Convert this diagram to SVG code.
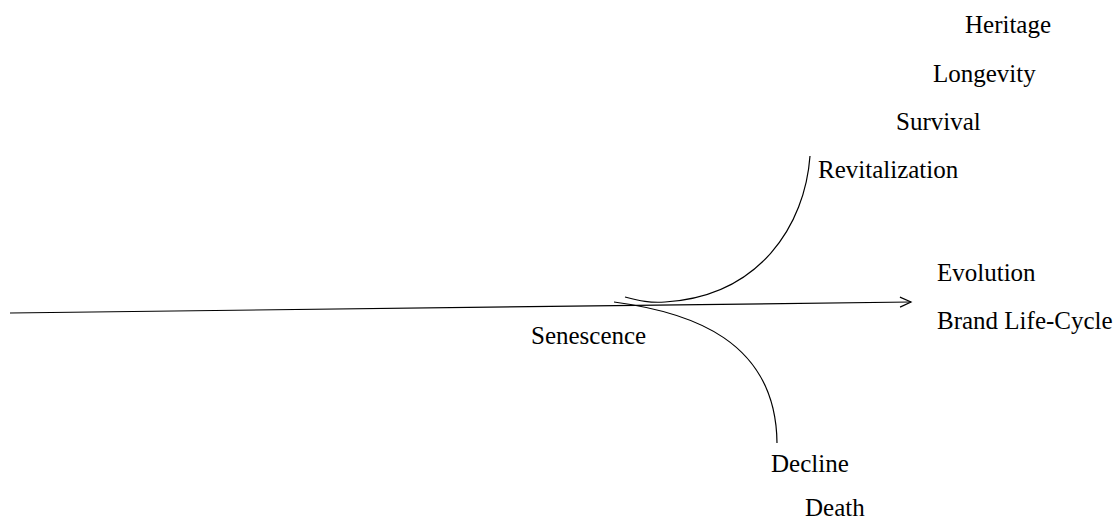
<svg xmlns="http://www.w3.org/2000/svg" width="1119" height="522" viewBox="0 0 1119 522">
<defs>
<style>
.t{font-family:"Liberation Serif","Times New Roman",serif;font-size:25px;fill:#000}
.c{fill:none;stroke:#000;stroke-width:1.2}
</style>
<marker id="ah" markerWidth="14" markerHeight="12" refX="12" refY="6" orient="auto" markerUnits="userSpaceOnUse">
<path d="M1,1 L12,6 L1,11" fill="none" stroke="#000" stroke-width="1.2"/>
</marker>
</defs>
<rect width="1119" height="522" fill="#fff"/>
<g id="connectors">
<path class="c" d="M10,313 L911,302" marker-end="url(#ah)"/>
<path class="c" d="M625,297 C640,301 650,303 665,302 C760,296 805,225 810,156"/>
<path class="c" d="M614,302 C690,312 776,340 777,443"/>
</g>
<g id="heritage"><text class="t" x="965" y="33">Heritage</text></g>
<g id="longevity"><text class="t" x="933" y="82">Longevity</text></g>
<g id="survival"><text class="t" x="896" y="130">Survival</text></g>
<g id="revitalization"><text class="t" x="818" y="178">Revitalization</text></g>
<g id="evolution"><text class="t" x="937" y="281">Evolution</text></g>
<g id="brand-life-cycle"><text class="t" x="937" y="329">Brand Life-Cycle</text></g>
<g id="senescence"><text class="t" x="531" y="344">Senescence</text></g>
<g id="decline"><text class="t" x="771" y="472">Decline</text></g>
<g id="death"><text class="t" x="805" y="516">Death</text></g>
</svg>
